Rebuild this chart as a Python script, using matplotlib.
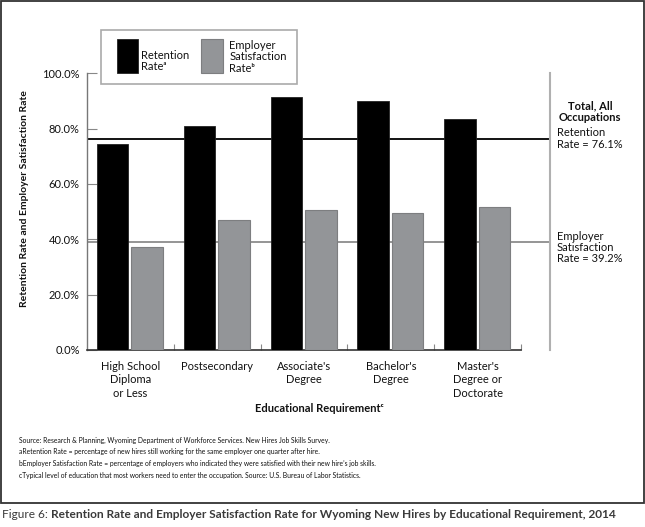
import matplotlib
matplotlib.use("Agg")
import matplotlib.pyplot as plt
from matplotlib.patches import Rectangle

categories = ["High School\nDiploma\nor Less", "Postsecondary", "Associate's\nDegree",
              "Bachelor's\nDegree", "Master's\nDegree or\nDoctorate"]
retention = [74.3, 81.0, 91.6, 90.0, 83.6]
satisfaction = [37.1, 47.0, 50.6, 49.6, 51.5]
total_retention = 76.1
total_satisfaction = 39.2
yticks = [0, 20, 40, 60, 80, 100]

MAIN = ["Lato", "DejaVu Sans"]
plt.rcParams['font.family'] = MAIN

W, H = 645, 527
fig = plt.figure(figsize=(W / 100, H / 100), dpi=100)

def fx(px):
    return px / W

def fy(py):
    return 1 - py / H

BLACK = "#000000"
GRAY = "#939598"

ax_left, ax_right, ax_top, ax_bot = 86.7, 550.0, 73.3, 350.0
ax = fig.add_axes([fx(ax_left), fy(ax_bot), fx(ax_right - ax_left), (ax_bot - ax_top) / H])
cat_w = 86.9
ax.set_xlim(0, (ax_right - ax_left) / cat_w)
ax.set_ylim(0, 100)

n = len(categories)
xs = list(range(n))
ax.bar([x + 0.297 for x in xs], retention, width=0.363, color=BLACK, edgecolor="#222222", linewidth=0.6, zorder=3)
ax.bar([x + 0.694 for x in xs], satisfaction, width=0.363, color=GRAY, edgecolor="#7d7e80", linewidth=0.8, zorder=3)

ax.axhline(total_retention, color=BLACK, linewidth=1.3, zorder=2)
ax.axhline(total_satisfaction, color="#8c8c8c", linewidth=1.3, zorder=2)

ax.spines["top"].set_visible(False)
ax.spines["left"].set_color("#777777")
ax.spines["left"].set_linewidth(1.0)
ax.spines["right"].set_color("#b0b0b0")
ax.spines["right"].set_linewidth(1.5)
ax.spines["bottom"].set_color("#333333")
ax.spines["bottom"].set_linewidth(1.2)
ax.spines["bottom"].set_bounds(0, n)

ax.set_yticks(yticks)
ax.set_yticklabels([f"{v:.1f}%" for v in yticks], fontsize=8, color="#111111")
ax.tick_params(axis="y", direction="in", length=7, width=0.8, color="#888888", pad=5)
ax.set_xticks(range(1, n + 1))
ax.set_xticklabels([])
ax.tick_params(axis="x", which="major", direction="in", length=4, width=0.8, color="#888888")
ax.set_xticks([x + 0.5 for x in xs], minor=True)
ax.set_xticklabels(categories, minor=True, fontsize=8, linespacing=1.25, color="#111111")
ax.tick_params(axis="x", which="minor", length=0, pad=8)

fig.text(fx(25), fy(199), "Retention Rate and Employer Satisfaction Rate", rotation=90,
         ha="center", va="center", fontsize=7.5, fontweight="bold", color="#111111")
fig.text(fx(319), fy(408), "Educational Requirement\u1d9c", ha="center", va="center",
         fontsize=8, fontweight="bold", color="#111111")

# legend
fig.patches.append(Rectangle((fx(101), fy(84)), fx(297 - 101), (84 - 30) / H, transform=fig.transFigure,
                             facecolor="white", edgecolor="#aaaaaa", linewidth=1.2, zorder=5))
fig.patches.append(Rectangle((fx(116.7), fy(72.7)), fx(21), 33.7 / H, transform=fig.transFigure,
                             facecolor=BLACK, edgecolor="#222222", linewidth=0.6, zorder=6))
fig.patches.append(Rectangle((fx(201), fy(72.7)), fx(21.7), 33.7 / H, transform=fig.transFigure,
                             facecolor=GRAY, edgecolor="#7d7e80", linewidth=0.8, zorder=6))
fig.text(fx(141), fy(61), "Retention\nRate\u1d43", ha="left", va="center", fontsize=8,
         linespacing=1.1, color="#111111", zorder=7)
fig.text(fx(229.3), fy(57), "Employer\nSatisfaction\nRate\u1d47", ha="left", va="center", fontsize=8,
         linespacing=1.1, color="#111111", zorder=7)

# right annotations
fig.text(fx(590), fy(112), "Total, All\nOccupations", ha="center", va="center", fontsize=8,
         fontweight="bold", linespacing=1.1, color="#111111")
fig.text(fx(556.7), fy(138.5), "Retention\nRate = 76.1%", ha="left", va="center", fontsize=8,
         linespacing=1.05, color="#111111")
fig.text(fx(556.7), fy(247.5), "Employer\nSatisfaction\nRate = 39.2%", ha="left", va="center", fontsize=8,
         linespacing=1.05, color="#111111")

notes = [
    "Source: Research & Planning, Wyoming Department of Workforce Services. New Hires Job Skills Survey.",
    "aRetention Rate = percentage of new hires still working for the same employer one quarter after hire.",
    "bEmployer Satisfaction Rate = percentage of employers who indicated they were satisfied with their new hire\u2019s job skills.",
    "cTypical level of education that most workers need to enter the occupation. Source: U.S. Bureau of Labor Statistics.",
]
for i, t in enumerate(notes):
    fig.text(fx(19), fy(440 + i * 11.7), t, ha="left", va="center", fontsize=4.85,
             color="#111111")

# frame
fig.patches.append(Rectangle((fx(1), fy(503)), fx(643), 502 / H, transform=fig.transFigure,
                             facecolor="none", edgecolor="#333333", linewidth=1.3, zorder=10))

# title
t1 = fig.text(fx(2), fy(514), "Figure 6: ", ha="left", va="center", fontsize=8.55,
              color="#3a3a3a")
fig.canvas.draw()
bb = t1.get_window_extent()
fig.text(bb.x1 / W, fy(514), "Retention Rate and Employer Satisfaction Rate for Wyoming New Hires by Educational Requirement, 2014",
         ha="left", va="center", fontsize=8.55, fontweight="bold", color="#3a3a3a")

fig.savefig("out.png", dpi=100)
